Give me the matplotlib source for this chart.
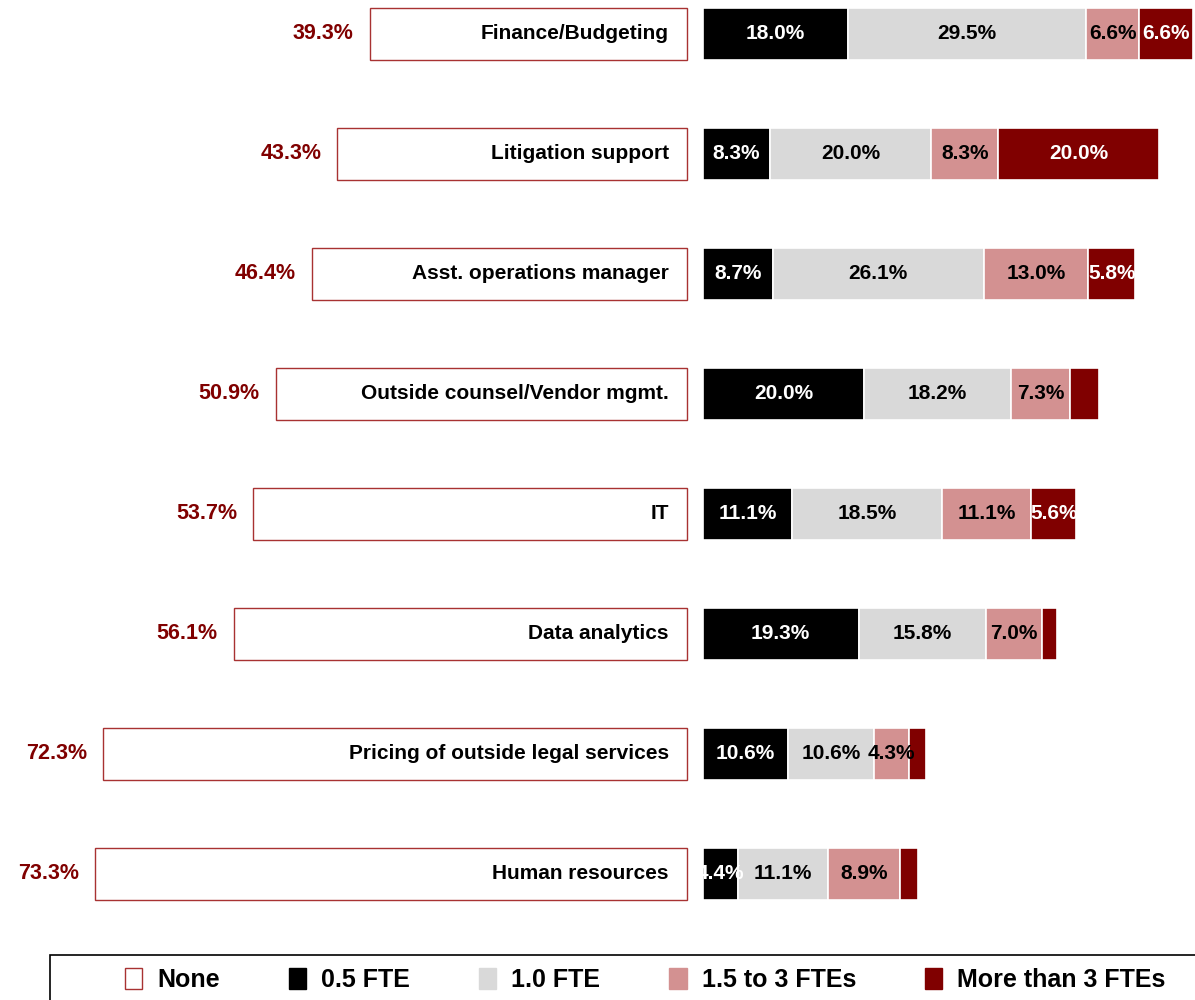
import numpy as np
import matplotlib.pyplot as plt
from matplotlib.patches import Patch, Rectangle

plt.rcParams['font.family'] = ['Liberation Sans', 'DejaVu Sans']

categories = ["Finance/Budgeting", "Litigation support", "Asst. operations manager",
              "Outside counsel/Vendor mgmt.", "IT", "Data analytics",
              "Pricing of outside legal services", "Human resources"]
none = [39.3, 43.3, 46.4, 50.9, 53.7, 56.1, 72.3, 73.3]
fte_05 = [18.0, 8.3, 8.7, 20.0, 11.1, 19.3, 10.6, 4.4]
fte_10 = [29.5, 20.0, 26.1, 18.2, 18.5, 15.8, 10.6, 11.1]
fte_15_3 = [6.6, 8.3, 13.0, 7.3, 11.1, 7.0, 4.3, 8.9]
fte_3plus = [6.6, 20.0, 5.8, 3.6, 5.6, 1.8, 2.2, 2.3]

series = [fte_05, fte_10, fte_15_3, fte_3plus]
names = ["0.5 FTE", "1.0 FTE", "1.5 to 3 FTEs", "More than 3 FTEs"]
colors = ["#000000", "#D9D9D9", "#D39191", "#800000"]
text_colors = ["white", "black", "black", "white"]
red = "#800000"
gap = 2.0

fig = plt.figure(figsize=(11.95, 10), dpi=100)
ax = fig.add_axes([0, 0.06, 1, 0.94])
y = np.arange(len(categories))

# None bars to the left, as outlined boxes
ax.barh(y, -np.array(none), left=-gap, height=0.435, color="white",
        edgecolor="#A83232", linewidth=1.0)
for i, v in enumerate(none):
    ax.text(-gap - v - 2.0, i, f"{v:.1f}%", ha="right", va="center",
            color=red, fontsize=15.5, fontweight="bold")
    ax.text(-gap - 2.2, i, categories[i], ha="right", va="center",
            color="black", fontsize=15, fontweight="bold")

# stacked FTE bars to the right
left = np.zeros(len(categories))
for vals, c, tc in zip(series, colors, text_colors):
    vals = np.array(vals)
    ax.barh(y, vals, left=left, height=0.435, color=c, edgecolor="white", linewidth=1.2)
    for i, v in enumerate(vals):
        if v >= 4:
            ax.text(left[i] + v / 2, i, f"{v:.1f}%", ha="center", va="center",
                    color=tc, fontsize=15, fontweight="bold")
    left += vals

ax.set_xlim(-87.1, 61.0)
ax.set_ylim(7.55, -0.283)
ax.axis("off")

# legend
fig.patches.append(Rectangle((50 / 1195, -0.1), 1.2, 0.145, transform=fig.transFigure,
                             facecolor="none", edgecolor="black", linewidth=1.2))
handles = [Patch(facecolor="white", edgecolor="#A83232", label="None")]
handles += [Patch(facecolor=c, edgecolor=c, label=n) for c, n in zip(colors, names)]
fig.legend(handles=handles, loc="center", bbox_to_anchor=(0.54, 0.02), ncol=5,
           frameon=False, handlelength=0.7, handleheight=0.9, handletextpad=0.6,
           columnspacing=2.75, prop={"size": 18, "weight": "bold"})

fig.savefig("out.png", dpi=100)
